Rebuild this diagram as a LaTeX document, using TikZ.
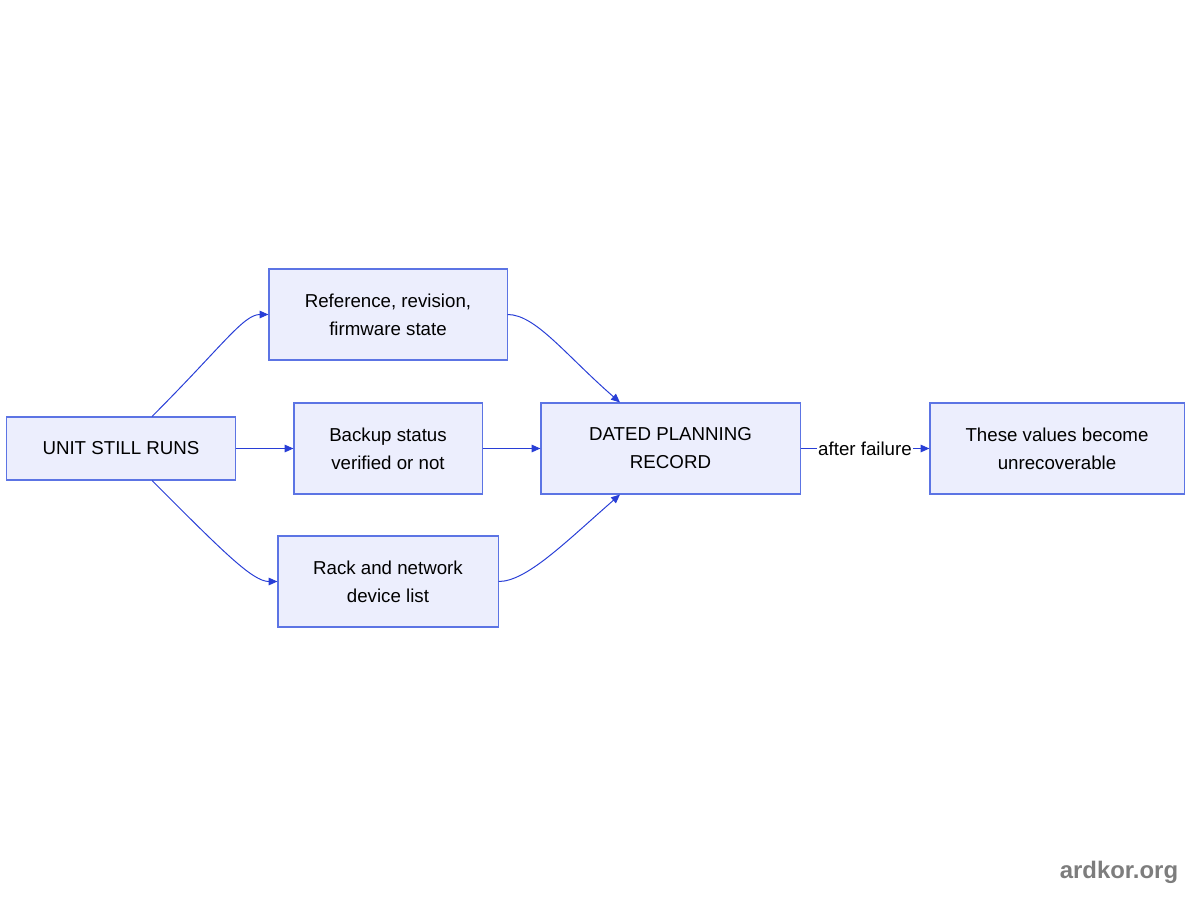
\documentclass[tikz,border=0pt]{standalone}
\usepackage{fontspec}
\setmainfont{Liberation Sans}
\usetikzlibrary{arrows.meta}

\definecolor{boxfill}{RGB}{236,238,253}
\definecolor{boxline}{RGB}{92,116,228}
\definecolor{linkblue}{RGB}{40,62,214}
\definecolor{markgray}{RGB}{125,125,125}

\begin{document}
\begin{tikzpicture}[x=0.025cm,y=-0.025cm,
        >={Triangle[length=6.3pt,width=5.4pt]},
        box/.style={draw=boxline,fill=boxfill,line width=0.75pt,align=center,
          inner sep=0pt,font=\fontsize{13.3}{19.9}\selectfont},
        link/.style={->,draw=linkblue,line width=0.7pt}]

  \useasboundingbox (0,0) rectangle (1200,900);

  \node[box,minimum width=5.7cm,minimum height=1.575cm] (unit) at (121,448.5) {UNIT STILL RUNS};
  \node[box,minimum width=5.95cm,minimum height=2.275cm] (ref) at (388,314.5) {Reference, revision,\\firmware state};
  \node[box,minimum width=4.7cm,minimum height=2.275cm] (backup) at (388,448.5) {Backup status\\verified or not};
  \node[box,minimum width=5.5cm,minimum height=2.275cm] (rack) at (388,581.5) {Rack and network\\device list};
  \node[box,minimum width=6.475cm,minimum height=2.275cm] (record) at (670.5,448.5) {DATED PLANNING\\RECORD};
  \node[box,minimum width=6.35cm,minimum height=2.275cm] (lost) at (1057,448.5) {These values become\\unrecoverable};

  \draw[link] ([xshift=0.775cm]unit.north) .. controls +(70,-70) and +(-25,0) .. (ref.west);
  \draw[link] (unit.east) -- (backup.west);
  \draw[link] ([xshift=0.775cm]unit.south) .. controls +(70,70) and +(-25,0) .. (rack.west);
  \draw[link] (ref.east) .. controls +(28,0) and +(-55,-48) .. ([xshift=-1.2625cm]record.north);
  \draw[link] (backup.east) -- (record.west);
  \draw[link] (rack.east) .. controls +(28,0) and +(-55,48) .. ([xshift=-1.2625cm]record.south);
  \draw[link] (record.east) -- node[fill=white,inner sep=1pt,font=\fontsize{13.3}{16}\selectfont] {after failure} (lost.west);

  \node[text=markgray,font=\bfseries\fontsize{17}{20}\selectfont] (site) at (1119,872) {ardkor.org};

\end{tikzpicture}
\end{document}
